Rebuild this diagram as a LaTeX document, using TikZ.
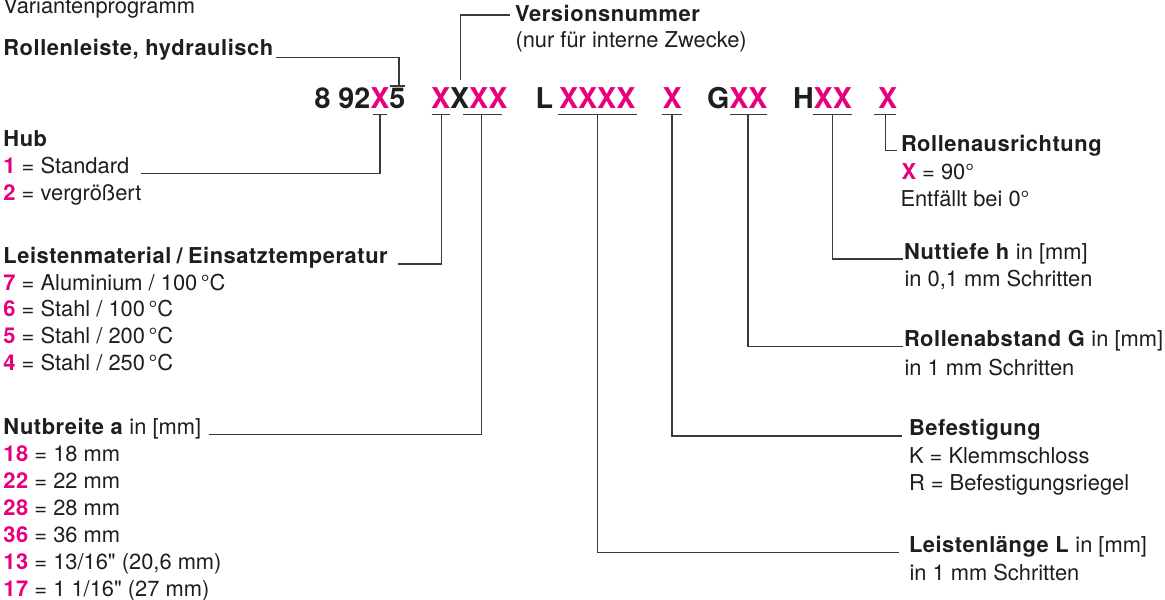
\documentclass[tikz,border=0pt]{standalone}
\usepackage{fontspec}
\setmainfont{TeX Gyre Heros}[BoldFeatures={LetterSpace=2.5}]
\newfontfamily\codefont{TeX Gyre Heros}
\newfontfamily\qfont{TeX Gyre Heros}[Ligatures=TeXOff]
\definecolor{mag}{HTML}{E5007D}
\definecolor{ink}{HTML}{1E1E1E}
\definecolor{ln}{HTML}{3A3A3A}
\newcommand{\mg}[1]{\textcolor{mag}{#1}}
\newcommand{\inch}{{\qfont"}}
\begin{document}
\begin{tikzpicture}[x=0.75pt,y=-0.75pt,
  txt/.style={anchor=base west,inner sep=0pt,outer sep=0pt,text=ink,font=\fontsize{16.4}{20}\selectfont},
  hd/.style={txt,font=\fontsize{16.4}{20}\selectfont\bfseries},
  code/.style={anchor=base west,inner sep=0pt,outer sep=0pt,text=ink,font=\fontsize{21.5}{24}\codefont\bfseries},
  conn/.style={draw=ln,line width=0.95pt},
]
\useasboundingbox (0,0) rectangle (1165,600);

% ---------- code line ----------
\node[code] (c1) at (314.5,108) {8 92\mg{X}5};
\node[code] (c2) at (431,108) {\mg{X}X\mg{XX}};
\node[code] (c3) at (535.5,108) {L};
\node[code] (c4) at (559,108) {\mg{XXXX}};
\node[code] (c5) at (662.5,108) {\mg{X}};
\node[code] (c6) at (707,108) {G\mg{XX}};
\node[code] (c7) at (793,108) {H\mg{XX}};
\node[code] (c8) at (878,108) {\mg{X}};

% ---------- left labels ----------
\node[txt] (var) at (3.5,13.3) {Variantenprogramm};
\node[hd]  (rol) at (3.5,55.3) {Rollenleiste, hydraulisch};

\node[hd]  (hub) at (3.5,146) {Hub};
\node[txt] (hub1) at (3.5,173.3) {\textbf{\mg{1}} = Standard};
\node[txt] (hub2) at (3.5,200.5) {\textbf{\mg{2}} = vergrößert};

\node[hd]  (mat) at (3.5,263.3) {Leistenmaterial\hspace{4pt}/\hspace{4pt}Einsatztemperatur};
\node[txt] (mat7) at (3.5,290) {\textbf{\mg{7}} = Aluminium / 100\,°C};
\node[txt] (mat6) at (3.5,316.7) {\textbf{\mg{6}} = Stahl / 100\,°C};
\node[txt] (mat5) at (3.5,343.3) {\textbf{\mg{5}} = Stahl / 200\,°C};
\node[txt] (mat4) at (3.5,370) {\textbf{\mg{4}} = Stahl / 250\,°C};

\node[txt] (nut) at (3.5,434) {\textbf{Nutbreite a} in [mm]};
\node[txt] (n18) at (3.5,461) {\textbf{\mg{18}} = 18 mm};
\node[txt] (n22) at (3.5,488) {\textbf{\mg{22}} = 22 mm};
\node[txt] (n28) at (3.5,515) {\textbf{\mg{28}} = 28 mm};
\node[txt] (n36) at (3.5,542.3) {\textbf{\mg{36}} = 36 mm};
\node[txt] (n13) at (3.5,569.7) {\textbf{\mg{13}} = 13/16\inch{} (20,6 mm)};
\node[txt] (n17) at (3.5,596.7) {\textbf{\mg{17}} = 1 1/16\inch{} (27 mm)};

% ---------- top label ----------
\node[hd]  (ver) at (515,21.5) {Versionsnummer};
\node[txt] (ver2) at (515.5,47.7) {(nur für interne Zwecke)};

% ---------- right labels ----------
\node[hd]  (aus) at (901,151.7) {Rollenausrichtung};
\node[txt] (aus1) at (901.5,179) {\textbf{\mg{X}} = 90°};
\node[txt] (aus2) at (900.5,206) {Entfällt bei 0°};

\node[txt] (tie) at (904,259) {\textbf{Nuttiefe h} in [mm]};
\node[txt] (tie1) at (904.5,286) {in 0,1 mm Schritten};

\node[txt] (abs) at (904,346.7) {\textbf{Rollenabstand G} in [mm]};
\node[txt] (abs1) at (904.5,375) {in 1 mm Schritten};

\node[hd]  (bef) at (909,435) {Befestigung};
\node[txt] (bef1) at (909,463.3) {K = Klemmschloss};
\node[txt] (bef2) at (909,490.7) {R = Befestigungsriegel};

\node[txt] (len) at (909,552.7) {\textbf{Leistenlänge L} in [mm]};
\node[txt] (len1) at (909.5,580) {in 1 mm Schritten};

% ---------- connector ends ----------
\coordinate (rolE) at (276,57.3);
\coordinate (o1) at (399,86);
\coordinate (verT) at (460.7,80);
\coordinate (verE) at (510,15);
\coordinate (u1) at (380,114.5);
\coordinate (u2) at (441.7,114.5);
\coordinate (u3) at (481.7,114.5);
\coordinate (u4) at (597.7,114.5);
\coordinate (u5) at (672,114.5);
\coordinate (u6) at (748,114.5);
\coordinate (u7) at (832.3,114.5);
\coordinate (u8) at (885.7,114.5);
\coordinate (hubE) at (140.7,173.3);
\coordinate (matE) at (398,264);
\coordinate (nutE) at (209.3,434.3);
\coordinate (lenE) at (899.3,552.7);
\coordinate (befE) at (901.7,436);
\coordinate (absE) at (902.7,346.7);
\coordinate (tieE) at (902.7,259);
\coordinate (ausE) at (896.7,150.7);

% ---------- bars over / under the code ----------
\draw[conn] (390,86) -- (405,86);
\draw[conn] (373,114.5) -- (387,114.5);
\draw[conn] (431.7,114.5) -- (450,114.5);
\draw[conn] (463,114.5) -- (501.7,114.5);
\draw[conn] (558,114.5) -- (636.7,114.5);
\draw[conn] (661.7,114.5) -- (681.7,114.5);
\draw[conn] (730,114.5) -- (767.3,114.5);
\draw[conn] (812.7,114.5) -- (851.7,114.5);
\draw[conn] (874.3,114.5) -- (895.7,114.5);

% ---------- connectors ----------
\draw[conn] (rolE) -| (o1);
\draw[conn] (verT) |- (verE);
\draw[conn] (u1) |- (hubE);
\draw[conn] (u2) |- (matE);
\draw[conn] (u3) |- (nutE);
\draw[conn] (u4) |- (lenE);
\draw[conn] (u5) |- (befE);
\draw[conn] (u6) |- (absE);
\draw[conn] (u7) |- (tieE);
\draw[conn] (u8) |- (ausE);
\end{tikzpicture}
\end{document}
